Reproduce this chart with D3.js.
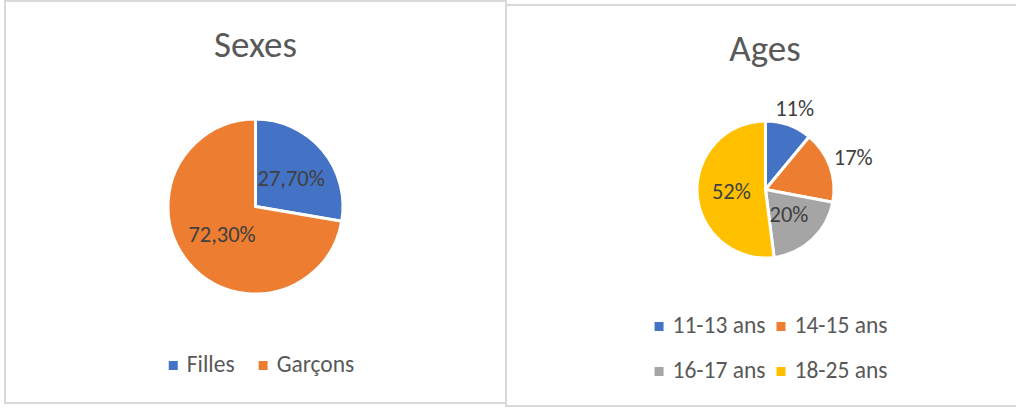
<!DOCTYPE html>
<html>
<head>
<meta charset="utf-8">
<script src="https://cdn.jsdelivr.net/npm/d3@7"></script>
<style>
  html, body { margin: 0; padding: 0; background: #ffffff; }
  svg { display: block; }
  text { font-family: Carlito, Calibri, Lato, "Noto Sans", sans-serif; }
</style>
</head>
<body>
<svg id="chart" width="1016" height="409"></svg>
<script>
// ---- Data ----
const sexTitle = "Sexes";
const sexCategories = ["Filles", "Garçons"];
const sexValues = [27.7, 72.3];
const sexLabels = ["27,70%", "72,30%"];

const ageTitle = "Ages";
const ageCategories = ["11-13 ans", "14-15 ans", "16-17 ans", "18-25 ans"];
const ageValues = [11, 17, 20, 52];
const ageLabels = ["11%", "17%", "20%", "52%"];

const sexColors = ["#4472C4", "#ED7D31"];
const ageColors = ["#4472C4", "#ED7D31", "#A5A5A5", "#FFC000"];

// ---- Drawing ----
const svg = d3.select("#chart");

function panel(cfg) {
  const g = svg.append("g");
  g.append("rect")
    .attr("x", cfg.frame[0]).attr("y", cfg.frame[1])
    .attr("width", cfg.frame[2]).attr("height", cfg.frame[3])
    .attr("fill", "#ffffff").attr("stroke", "#D9D9D9").attr("stroke-width", 2);

  g.append("text")
    .attr("x", cfg.titleX).attr("y", cfg.titleY)
    .attr("text-anchor", "middle")
    .attr("font-size", cfg.titleSize)
    .attr("fill", "#595959")
    .text(cfg.title);

  const color = d3.scaleOrdinal().domain(cfg.categories).range(cfg.colors);
  const pie = d3.pie().sort(null).value(d => d.value);
  const data = cfg.categories.map((c, i) => ({ cat: c, value: cfg.values[i], label: cfg.labels[i] }));
  const arcs = pie(data);
  const arc = d3.arc().innerRadius(0).outerRadius(cfg.r);

  const pg = g.append("g").attr("transform", `translate(${cfg.cx},${cfg.cy})`);
  pg.selectAll("path.slice").data(arcs).enter().append("path")
    .attr("class", "slice")
    .attr("d", arc)
    .attr("fill", d => color(d.data.cat))
    .attr("stroke", "#ffffff")
    .attr("stroke-width", 3)
    .attr("stroke-linejoin", "round");

  const lbl = pg.selectAll("text.lbl").data(arcs).enter().append("text")
    .attr("class", "lbl")
    .attr("font-size", cfg.labelSize)
    .attr("fill", "#404040")
    .attr("text-anchor", "middle")
    .text(d => d.data.label);

  lbl.each(function (d) {
    const t = d3.select(this);
    const w = this.getComputedTextLength();
    const h = cfg.labelSize * 0.64;
    const mid = (d.startAngle + d.endAngle) / 2;
    const ux = Math.sin(mid), uy = -Math.cos(mid);
    let x, y;
    if (d.endAngle - d.startAngle < 1.13) {
      const dist = cfg.r + 4 + (w / 2) * Math.abs(ux) + (h / 2) * Math.abs(uy);
      x = dist * ux; y = dist * uy;
    } else {
      const c = arc.centroid(d);
      x = c[0]; y = c[1];
      if (d.startAngle === 0 && x - w / 2 < 2) x = 2 + w / 2;
    }
    t.attr("x", x).attr("y", y + h / 2);
  });

  const lg = g.append("g");
  cfg.legendRows.forEach((row, ri) => {
    const items = row.map(i => ({ cat: cfg.categories[i] }));
    const widths = items.map(it => {
      const t = lg.append("text").attr("font-size", cfg.legendSize).text(it.cat);
      const w = t.node().getComputedTextLength();
      t.remove();
      return w;
    });
    const sq = 9, gap1 = 9;
    const total = d3.sum(widths) + items.length * (sq + gap1) + (items.length - 1) * cfg.legendGap;
    let x = cfg.legendCx - total / 2;
    const yBase = cfg.legendY + ri * cfg.legendRowH;
    items.forEach((it, k) => {
      lg.append("rect")
        .attr("x", x).attr("y", yBase - 11)
        .attr("width", sq).attr("height", sq)
        .attr("fill", color(it.cat));
      lg.append("text")
        .attr("x", x + sq + gap1).attr("y", yBase)
        .attr("font-size", cfg.legendSize)
        .attr("fill", "#595959")
        .text(it.cat);
      x += sq + gap1 + widths[k] + cfg.legendGap;
    });
  });
}

panel({
  frame: [5, 1, 501, 402],
  title: sexTitle, titleX: 255.5, titleY: 57, titleSize: 37,
  categories: sexCategories, values: sexValues, labels: sexLabels, colors: sexColors,
  cx: 255.5, cy: 206.5, r: 87.5, labelSize: 22.5,
  legendRows: [[0, 1]], legendCx: 261.5, legendY: 372, legendRowH: 0, legendGap: 24, legendSize: 23.5
});

panel({
  frame: [506, 5, 514, 401],
  title: ageTitle, titleX: 765, titleY: 61, titleSize: 37,
  categories: ageCategories, values: ageValues, labels: ageLabels, colors: ageColors,
  cx: 765.5, cy: 189.5, r: 68.5, labelSize: 22.5,
  legendRows: [[0, 1], [2, 3]], legendCx: 771, legendY: 333, legendRowH: 45, legendGap: 11, legendSize: 23.5
});
</script>
</body>
</html>
